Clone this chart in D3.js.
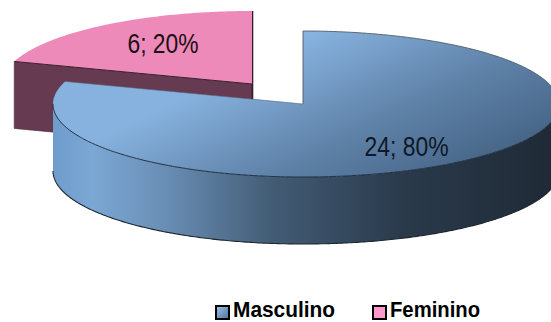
<!DOCTYPE html>
<html>
<head>
<meta charset="utf-8">
<script src="https://cdn.jsdelivr.net/npm/d3@7/dist/d3.min.js"></script>
<style>
html,body{margin:0;padding:0;background:#fff;overflow:hidden;}
svg{display:block;}
text{font-family:"Liberation Sans",Arial,sans-serif;}
</style>
</head>
<body>
<svg id="chart" width="551" height="322"></svg>
<script>
const categories = ["Masculino", "Feminino"];
const counts = [24, 6];
const percents = [80, 20];
const topColors = ["url(#topBlue)", "#ee8ab9"];
const swatchColors = ["url(#swatchBlue)", "#ff99cc"];

const svg = d3.select("#chart");

// Tilted-pie geometry: radii of the projected ellipse and the height of the rim.
const rxLeft = 250, rxRight = 256, ry = 73, depth = 67;
const centers = [{x: 303, y: 104}, {x: 252, y: 84}];

const defs = svg.append("defs");
function gradient(id, x1, y1, x2, y2, stops) {
  const g = defs.append("linearGradient").attr("id", id)
    .attr("gradientUnits", "userSpaceOnUse")
    .attr("x1", x1).attr("y1", y1).attr("x2", x2).attr("y2", y2);
  stops.forEach(([o, c]) => g.append("stop").attr("offset", o).attr("stop-color", c));
}
gradient("topBlue", 300, 40, 394, 232, [[0, "#87b2df"], [0.5, "#5f82a8"], [0.8, "#4d6d90"], [1, "#3f5a78"]]);
gradient("wallBlue", 53, 0, 551, 0, [
  [0, "#6f9dcb"], [0.08, "#7ba7d4"], [0.22, "#6a8fb6"], [0.44, "#435c75"],
  [0.7, "#2a3a4b"], [1, "#1f2a36"]]);
defs.append("linearGradient").attr("id", "swatchBlue")
  .attr("x1", 0).attr("y1", 0).attr("x2", 1).attr("y2", 1)
  .call(g => {
    g.append("stop").attr("offset", 0).attr("stop-color", "#9cc4ee");
    g.append("stop").attr("offset", 1).attr("stop-color", "#4f7296");
  });

const pie = d3.pie().sort(null).value(d => d);
const slices = pie(counts);

// Project a pie angle (clockwise from north) onto the tilted ellipse.
const project = (c, a) => {
  const s = Math.sin(a);
  return [c.x + (s > 0 ? rxRight : rxLeft) * s, c.y - ry * Math.cos(a)];
};
const line = d3.line();
const sweep = (a0, a1) => d3.range(a0, a1, 0.01).concat([a1]);
const facePath = (c, s) =>
  line([[c.x, c.y]].concat(sweep(s.startAngle, s.endAngle).map(a => project(c, a)))) + "Z";

// Feminino: the cut face along its left edge and the dark vertical cut, drawn behind.
const fem = slices[1], fc = centers[1];
const leftEdge = project(fc, fem.startAngle);
svg.append("path")
  .attr("d", line([leftEdge, [fc.x, fc.y], [fc.x, fc.y + depth], [leftEdge[0], leftEdge[1] + depth]]) + "Z")
  .attr("fill", "#663a50")
  .attr("stroke", "#4a2a3a").attr("stroke-width", 0.6);
svg.append("line")
  .attr("x1", fc.x + 0.5).attr("x2", fc.x + 0.5)
  .attr("y1", fc.y - ry).attr("y2", fc.y + 16)
  .attr("stroke", "#33202c").attr("stroke-width", 1.6);
svg.append("path")
  .attr("d", facePath(fc, fem))
  .attr("fill", topColors[1]);
svg.append("path")
  .attr("d", line([leftEdge, [fc.x, fc.y]]))
  .attr("fill", "none").attr("stroke", "#3a2230").attr("stroke-width", 1);

// Masculino: outer rim runs along the visible front half of the ellipse.
const masc = slices[0], mc = centers[0];
const rimTop = sweep(Math.PI / 2, 3 * Math.PI / 2).map(a => project(mc, a));
const rimBottom = rimTop.map(([x, y]) => [x, y + depth]).reverse();
svg.append("path")
  .attr("d", line(rimTop.concat(rimBottom)) + "Z")
  .attr("fill", "url(#wallBlue)");
svg.append("path")
  .attr("d", line(rimBottom))
  .attr("fill", "none").attr("stroke", "#1c2630").attr("stroke-width", 1.1);
svg.append("path")
  .attr("d", facePath(mc, masc))
  .attr("fill", topColors[0]);

// Thin edge tracing the top face: grey along the cut and back, dark along the front.
const backEdge = sweep(0, Math.PI / 2).map(a => project(mc, a));
svg.append("path")
  .attr("d", line([[mc.x, mc.y]].concat(backEdge)))
  .attr("fill", "none").attr("stroke", "#4f5a66").attr("stroke-width", 0.9);
svg.append("path")
  .attr("d", line(rimTop))
  .attr("fill", "none").attr("stroke", "#1c2f44").attr("stroke-width", 1);
svg.append("path")
  .attr("d", line([project(mc, masc.endAngle), [mc.x, mc.y]]))
  .attr("fill", "none").attr("stroke", "#5a6a7a").attr("stroke-width", 0.6);

// Value labels on the two faces.
const labelPos = [[406.5, 145.5], [163, 43]];
const labelW = [84, 71];
svg.selectAll("text.value").data(categories).join("text")
  .attr("class", "value")
  .attr("x", (d, i) => labelPos[i][0])
  .attr("y", (d, i) => labelPos[i][1])
  .attr("dy", "0.36em")
  .attr("text-anchor", "middle")
  .attr("font-size", 28)
  .attr("textLength", (d, i) => labelW[i])
  .attr("lengthAdjust", "spacingAndGlyphs")
  .attr("fill", (d, i) => i === 0 ? "#0e1826" : "#1a1016")
  .text((d, i) => `${counts[i]}; ${percents[i]}%`);

// Legend.
const legendX = [216, 373];
const legendTextX = [233, 390];
const legendW = [102, 90];
const legend = svg.selectAll("g.legend").data(categories).join("g").attr("class", "legend");
legend.append("rect")
  .attr("x", (d, i) => legendX[i]).attr("y", 306)
  .attr("width", 13).attr("height", 13)
  .attr("fill", (d, i) => swatchColors[i])
  .attr("stroke", "#000").attr("stroke-width", 2);
legend.append("text")
  .attr("x", (d, i) => legendTextX[i])
  .attr("y", 317)
  .attr("font-size", 22)
  .attr("font-weight", "bold")
  .attr("textLength", (d, i) => legendW[i])
  .attr("lengthAdjust", "spacingAndGlyphs")
  .attr("fill", "#000")
  .text(d => d);
</script>
</body>
</html>
